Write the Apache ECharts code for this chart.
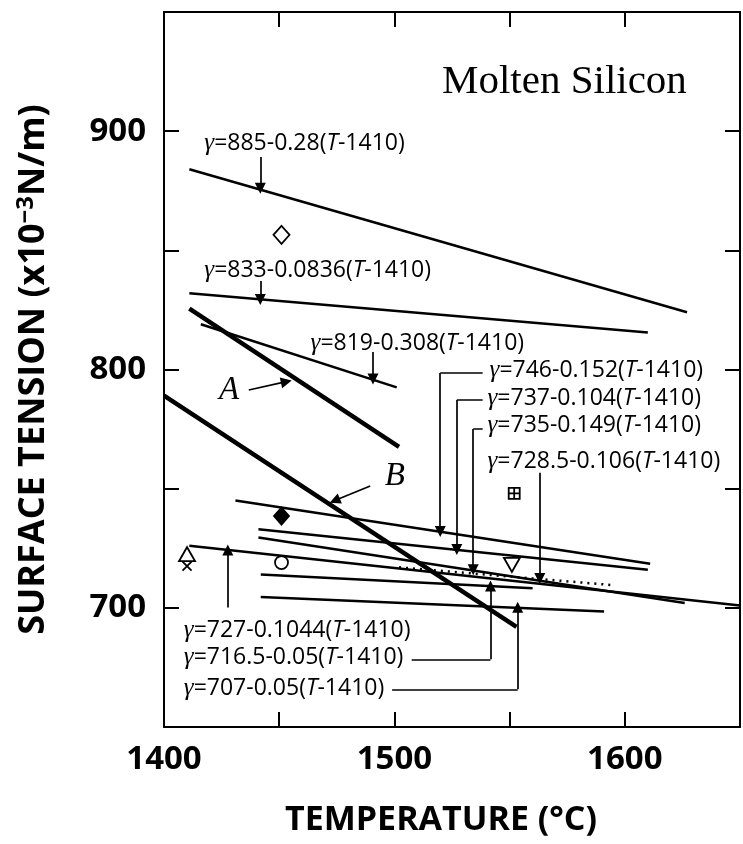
<!DOCTYPE html>
<html><head><meta charset="utf-8">
<script src="https://cdn.jsdelivr.net/npm/echarts@6/dist/echarts.min.js"></script>
<style>html,body{margin:0;padding:0;background:#fff}#c{width:743px;height:844px}</style>
</head><body><div id="c"></div>
<script>
// ---------- data ----------
const xTickLabels = [1400, 1500, 1600];
const yTickLabels = [700, 800, 900];

const fitEquations = ['885-0.28', '833-0.0836', '819-0.308', '746-0.152', '737-0.104',
                      '735-0.149', '728.5-0.106', '727-0.1044', '716.5-0.05', '707-0.05'];
const fitStartT = [1411, 1411, 1416, 1431, 1441, 1441, 1502, 1411, 1442, 1442];
const fitStartG = [884, 832, 819, 745, 733, 729.5, 717, 726, 714, 704.5];
const fitEndT   = [1627, 1610, 1501, 1611, 1610, 1626, 1595, 1650, 1560, 1591];
const fitEndG   = [824, 815.5, 792.5, 718.5, 716, 702, 709.5, 701, 708.2, 698.5];
const fitDotted = [false, false, false, false, false, false, true, false, false, false];

const curveNames  = ['A', 'B'];
const curveStartT = [1411, 1400];
const curveStartG = [825.5, 789];
const curveEndT   = [1502, 1553];
const curveEndG   = [767.5, 692];

const pointShape = ['openDiamond', 'filledDiamond', 'openCircle', 'openTriangleUp', 'cross', 'openTriangleDown', 'boxedPlus'];
const pointT = [1451, 1451, 1451, 1410, 1410, 1551, 1552];
const pointG = [856.5, 738.5, 719, 722.5, 717.5, 718, 748];

// ---------- annotation layout (data units) ----------
const eqLabelAt = [[1417.5, 895], [1417.5, 841.7], [1463.6, 811.1], [1541.3, 799.8], [1540.4, 788],
                   [1540.4, 776.7], [1540.4, 761.3], [1408.6, 690.7], [1408.6, 679], [1408.6, 666.2]];
const eqLeaders = [
  [[1441.8, 889.2], [1441.8, 876]],
  [[1441.8, 837.1], [1441.8, 829.4]],
  [[1490.7, 807.3], [1490.7, 796]],
  [[1538.3, 798.5], [1519.9, 798.5], [1519.9, 732]],
  [[1538.3, 787.2], [1527.1, 787.2], [1527.1, 724.5]],
  [[1538.3, 775], [1534.2, 775], [1534.2, 716]],
  [[1563.1, 756.7], [1563.1, 712.3]],
  [[1427.7, 700.1], [1427.7, 724.3]],
  [[1507.5, 678.4], [1541.7, 678.4], [1541.7, 709.2]],
  [[1499, 665.8], [1553.5, 665.8], [1553.5, 700.2]]
];
const curveLabelAt = [[1428.3, 791.4], [1500.2, 755]];
const curveLeaders = [
  [[1436.8, 791.4], [1453.1, 794.9]],
  [[1489.5, 751.1], [1474.1, 745]]
];
const titleAt = [1573.8, 920.6];
const titleText = 'Molten Silicon';

// ---------- build ----------
const BLACK = '#000';
const series = [];

fitEquations.forEach((eq, i) => {
  series.push({
    type: 'line', data: [[fitStartT[i], fitStartG[i]], [fitEndT[i], fitEndG[i]]],
    showSymbol: false, symbol: 'none', silent: true, z: 3,
    lineStyle: { color: BLACK, width: 2.5, opacity: 1, type: fitDotted[i] ? [2, 5] : 'solid' }
  });
});
curveNames.forEach((n, i) => {
  series.push({
    type: 'line', data: [[curveStartT[i], curveStartG[i]], [curveEndT[i], curveEndG[i]]],
    showSymbol: false, symbol: 'none', silent: true, z: 3,
    lineStyle: { color: BLACK, width: 4.5, opacity: 1 }
  });
});

const symbolDefs = {
  openDiamond:      { symbol: 'diamond', size: [16, 18], fill: '#fff' },
  filledDiamond:    { symbol: 'diamond', size: [15, 17], fill: BLACK },
  openCircle:       { symbol: 'circle', size: 13, fill: '#fff' },
  openTriangleUp:   { symbol: 'triangle', size: [16, 14], fill: '#fff' },
  cross:            { symbol: 'path://M0,0L10,10M10,0L0,10', size: 9, fill: 'none' },
  openTriangleDown: { symbol: 'triangle', size: [16, 14], fill: '#fff', rotate: 180 },
  boxedPlus:        { symbol: 'path://M0,0H10V10H0ZM5,0V10M0,5H10', size: 11, fill: 'none' }
};
pointShape.forEach((s, i) => {
  const d = symbolDefs[s];
  series.push({
    type: 'scatter', data: [[pointT[i], pointG[i]]], symbol: d.symbol, symbolSize: d.size,
    symbolRotate: d.rotate || 0, silent: true, z: 5,
    itemStyle: { color: d.fill, borderColor: BLACK, borderWidth: 1.8, opacity: 1 }
  });
});

// leaders
const plainSegs = [], arrowSegs = [];
eqLeaders.concat(curveLeaders).forEach(pl => {
  for (let k = 0; k < pl.length - 1; k++) {
    const seg = { coords: [pl[k], pl[k + 1]] };
    if (k === pl.length - 2) arrowSegs.push(seg); else plainSegs.push(seg);
  }
});
series.push({
  type: 'lines', coordinateSystem: 'cartesian2d', silent: true, z: 4,
  symbol: ['none', 'none'], lineStyle: { color: BLACK, width: 1.7, opacity: 1, curveness: 0 },
  data: plainSegs
});
series.push({
  type: 'lines', coordinateSystem: 'cartesian2d', silent: true, z: 4,
  symbol: ['none', 'triangle'], symbolSize: [8, 11],
  lineStyle: { color: BLACK, width: 1.7, opacity: 1, curveness: 0 },
  data: arrowSegs
});

// text labels
function textSeries(pos, label) {
  return {
    type: 'scatter', data: [pos], symbolSize: 0, silent: true, z: 6,
    itemStyle: { opacity: 1 },
    label: Object.assign({ show: true, opacity: 1, color: BLACK }, label)
  };
}
fitEquations.forEach((eq, i) => {
  series.push(textSeries(eqLabelAt[i], {
    position: 'right', distance: 0,
    fontFamily: 'Open Sans', fontSize: 23,
    formatter: '{g|γ}=' + eq + '({t|T}-1410)',
    rich: {
      g: { fontFamily: 'Liberation Serif', fontStyle: 'italic', fontSize: 25, color: BLACK },
      t: { fontFamily: 'Open Sans', fontStyle: 'italic', fontSize: 23, color: BLACK }
    }
  }));
});
curveNames.forEach((n, i) => {
  series.push(textSeries(curveLabelAt[i], { position: 'inside', formatter: n,
    fontFamily: 'Liberation Serif', fontStyle: 'italic', fontSize: 33 }));
});
series.push(textSeries(titleAt, { position: 'inside', formatter: titleText,
  fontFamily: 'Liberation Serif', fontSize: 41 }));

const axisCommon = {
  type: 'value', splitLine: { show: false },
  axisLine: { show: true, onZero: false, lineStyle: { color: BLACK, width: 2 } },
  axisTick: { show: true, inside: true, length: 15, lineStyle: { color: BLACK, width: 2 } }
};
const boldText = { fontFamily: 'Open Sans', fontWeight: 'bold', fontSize: 33, color: BLACK };

const option = {
  animation: false,
  backgroundColor: '#fff',
  grid: { left: 164, top: 12, width: 584, height: 715 },
  xAxis: [
    Object.assign({}, axisCommon, {
      min: 1400, max: 1650, interval: 50, position: 'bottom',
      axisLabel: Object.assign({}, boldText, { margin: 16,
        formatter: v => xTickLabels.includes(v) ? String(v) : '' }),
      name: 'TEMPERATURE (°C)', nameLocation: 'middle', nameGap: 76,
      nameTextStyle: Object.assign({}, boldText, { fontSize: 34, padding: [0, 22, 0, 0] })
    }),
    Object.assign({}, axisCommon, {
      min: 1400, max: 1650, interval: 50, position: 'top', axisLabel: { show: false }
    })
  ],
  yAxis: [
    Object.assign({}, axisCommon, {
      min: 650, max: 950, interval: 50, position: 'left',
      axisLabel: Object.assign({}, boldText, { margin: 18,
        formatter: v => yTickLabels.includes(v) ? String(v) : '' }),
      name: 'SURFACE TENSION (x10{sup|−3}N/m)', nameLocation: 'middle', nameGap: 110, nameRotate: 90,
      nameTextStyle: Object.assign({}, boldText, { fontSize: 36,
        rich: { sup: { fontFamily: 'Open Sans', fontWeight: 'bold', fontSize: 24, color: BLACK, padding: [0, 0, 16, 0] } } })
    }),
    Object.assign({}, axisCommon, {
      min: 650, max: 950, interval: 50, position: 'right', axisLabel: { show: false }
    })
  ],
  series: series
};

const chart = echarts.init(document.getElementById('c'), null, { renderer: 'canvas' });
chart.setOption(option);
</script></body></html>
